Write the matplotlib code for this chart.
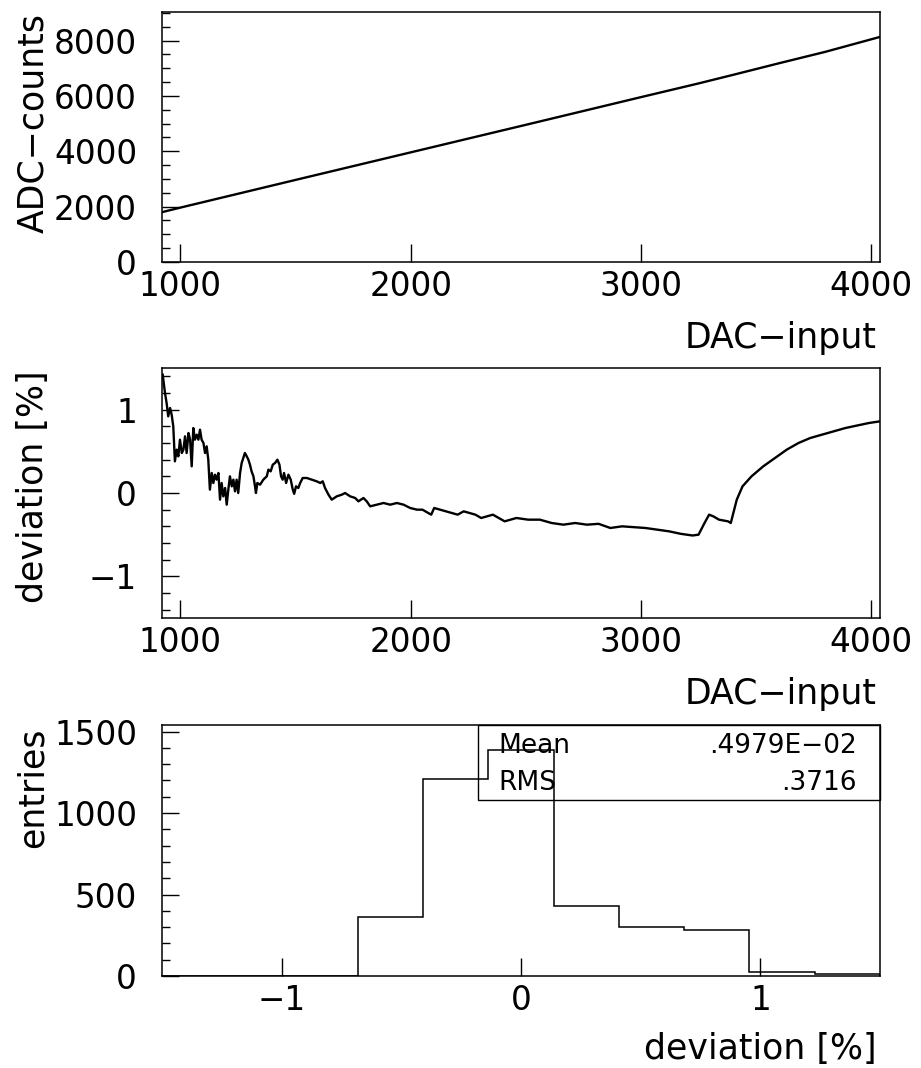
import matplotlib
matplotlib.use("Agg")
import matplotlib.pyplot as plt
from matplotlib.patches import Rectangle
from matplotlib.ticker import MultipleLocator, FixedLocator

plt.rcParams['font.family'] = ['DejaVu Sans']

# ---------------- data ----------------
# top panel: ADC counts vs DAC input
dac_adc = [920, 1000, 1500, 2000, 2500, 3000, 3250, 3400, 3600, 3800, 4038]
adc_counts = [1800, 1965, 2965, 3960, 4955, 5955, 6450, 6760, 7180, 7590, 8130]

# middle panel: deviation [%] vs DAC input
dac_dev = [923, 933, 940, 947, 955, 962, 969, 976, 984, 991, 998, 1006, 1013, 1020,
           1027, 1035, 1042, 1049, 1056, 1063, 1071, 1078, 1085, 1092, 1100, 1107,
           1114, 1121, 1128, 1136, 1143, 1150, 1157, 1165, 1172, 1179, 1186, 1194,
           1201, 1208, 1215, 1223, 1230, 1237, 1244, 1251, 1259, 1266, 1273, 1280,
           1288, 1295, 1302, 1309, 1317, 1324, 1328, 1334, 1346, 1360, 1375, 1382,
           1392, 1401, 1411, 1421, 1430, 1437, 1444, 1450, 1459, 1469, 1479, 1488,
           1494, 1502, 1512, 1520, 1531, 1549, 1570, 1592, 1607, 1618, 1628, 1643,
           1657, 1679, 1701, 1715, 1737, 1759, 1773, 1795, 1809, 1824, 1853, 1882,
           1911, 1940, 1969, 1998, 2027, 2051, 2089, 2102, 2153, 2204, 2230, 2281,
           2306, 2357, 2408, 2459, 2510, 2561, 2612, 2663, 2714, 2765, 2816, 2867,
           2918, 2969, 3020, 3071, 3122, 3173, 3224, 3250, 3276, 3296, 3314, 3339,
           3378, 3390, 3416, 3441, 3480, 3531, 3582, 3633, 3684, 3735, 3786, 3837,
           3888, 3939, 3990, 4038]
deviation = [1.42, 1.20, 1.08, 0.92, 1.02, 0.94, 0.80, 0.38, 0.52, 0.44, 0.64, 0.48,
             0.52, 0.68, 0.48, 0.72, 0.64, 0.32, 0.78, 0.64, 0.70, 0.64, 0.76, 0.64,
             0.60, 0.48, 0.56, 0.40, 0.04, 0.24, 0.12, 0.22, 0.16, 0.24, -0.08, 0.12,
             -0.04, 0.06, -0.14, 0.04, 0.20, 0.08, 0.16, 0.02, 0.16, 0.00, 0.24, 0.36,
             0.42, 0.48, 0.44, 0.40, 0.34, 0.26, 0.20, 0.08, 0.00, 0.12, 0.10, 0.16,
             0.20, 0.28, 0.26, 0.34, 0.36, 0.40, 0.34, 0.20, 0.16, 0.24, 0.12, 0.22,
             0.16, 0.04, -0.01, 0.08, 0.06, 0.12, 0.18, 0.18, 0.16, 0.14, 0.12, 0.14,
             0.06, -0.02, -0.08, -0.04, -0.02, 0.00, -0.04, -0.06, -0.10, -0.06, -0.10,
             -0.16, -0.14, -0.12, -0.14, -0.12, -0.14, -0.18, -0.20, -0.20, -0.26,
             -0.18, -0.22, -0.26, -0.22, -0.26, -0.30, -0.26, -0.34, -0.30, -0.32,
             -0.32, -0.36, -0.38, -0.36, -0.38, -0.37, -0.42, -0.40, -0.41, -0.42,
             -0.44, -0.46, -0.49, -0.51, -0.50, -0.36, -0.26, -0.28, -0.32, -0.34,
             -0.36, -0.08, 0.08, 0.20, 0.32, 0.42, 0.52, 0.60, 0.66, 0.70, 0.74, 0.78,
             0.81, 0.84, 0.86]

# bottom panel: histogram of deviations
hist_edges = [-1.5, -1.2273, -0.9545, -0.6818, -0.4091, -0.1364, 0.1364, 0.4091,
              0.6818, 0.9545, 1.2273, 1.5]
hist_counts = [0, 0, 0, 365, 1211, 1385, 432, 303, 281, 27, 12]
stat_names = ["Mean", "RMS"]
stat_values = [".4979E−02", ".3716"]

# ---------------- figure ----------------
W, H = 921, 1068
fig = plt.figure(figsize=(W / 100, H / 100), dpi=100)

def px_axes(top, bottom, left=162, right=880):
    return fig.add_axes([left / W, 1 - bottom / H, (right - left) / W, (bottom - top) / H])

ax1 = px_axes(12, 262)
ax2 = px_axes(368, 618)
ax3 = px_axes(725, 976)

FS_TICK = 23.5
FS_LAB = 25
LW_AX = 1.1

for ax in (ax1, ax2, ax3):
    for s in ax.spines.values():
        s.set_linewidth(LW_AX)
    ax.tick_params(axis='both', which='both', direction='in', top=False, right=False,
                   labelsize=FS_TICK, width=1.0, color='black')
    ax.tick_params(axis='y', which='major', length=12, pad=18)
    ax.tick_params(axis='y', which='minor', length=5.8)
    ax.tick_params(axis='x', which='major', length=13, pad=6)
    ax.tick_params(axis='x', which='minor', length=0)

# top panel
ax1.plot(dac_adc, adc_counts, color='black', lw=1.7)
ax1.set_xlim(920, 4038)
ax1.set_ylim(0, 9030)
ax1.xaxis.set_major_locator(FixedLocator([1000, 2000, 3000, 4000]))
ax1.yaxis.set_major_locator(FixedLocator([0, 2000, 4000, 6000, 8000]))
ax1.yaxis.set_minor_locator(MultipleLocator(500))

# middle panel
ax2.plot(dac_dev, deviation, color='black', lw=1.7)
ax2.set_xlim(920, 4038)
ax2.set_ylim(-1.5, 1.5)
ax2.xaxis.set_major_locator(FixedLocator([1000, 2000, 3000, 4000]))
ax2.yaxis.set_major_locator(FixedLocator([-1, 0, 1]))
ax2.yaxis.set_minor_locator(MultipleLocator(0.2))

# bottom panel
ax3.stairs(hist_counts, hist_edges, color='black', lw=1.1, baseline=0)
ax3.set_xlim(-1.5, 1.5)
ax3.set_ylim(0, 1540)
ax3.xaxis.set_major_locator(FixedLocator([-1, 0, 1]))
ax3.yaxis.set_major_locator(FixedLocator([0, 500, 1000, 1500]))
ax3.yaxis.set_minor_locator(MultipleLocator(100))

# stats box
ax3.add_patch(Rectangle((0.44, 0.70), 0.56, 0.30, transform=ax3.transAxes,
                        fill=False, lw=1.0, ec='black', zorder=5, clip_on=False))
SFS = 19
for i, (nm, val) in enumerate(zip(stat_names, stat_values)):
    yb = [0.888, 0.741][i]
    ax3.text(0.468, yb, nm, transform=ax3.transAxes, fontsize=SFS, ha='left', va='baseline')
    ax3.text(0.968, yb, val, transform=ax3.transAxes, fontsize=SFS, ha='right', va='baseline')

# axis labels (figure coordinates)
def xlab(text, baseline_px):
    fig.text(877 / W, 1 - baseline_px / H, text, fontsize=FS_LAB, ha='right', va='baseline')

def ylab(text, top_px):
    fig.text(50 / W, 1 - top_px / H, text, fontsize=FS_LAB, rotation=90, ha='right', va='top')

xlab("DAC−input", 348)
xlab("DAC−input", 704)
xlab("deviation [%]", 1059)
ylab("ADC−counts", 13)
ylab("deviation [%]", 370)
ylab("entries", 727)

fig.savefig("out.png", dpi=100)
